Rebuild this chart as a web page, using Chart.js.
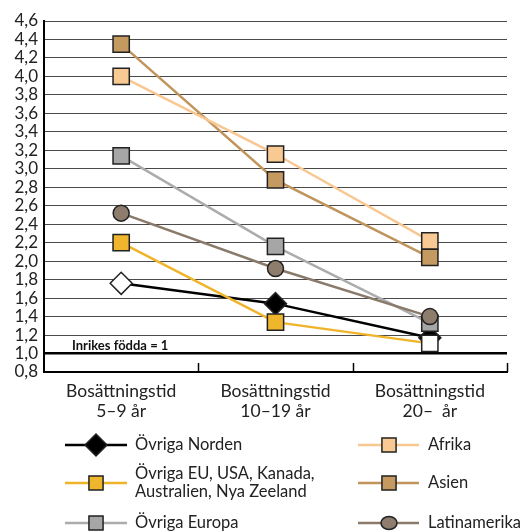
<!DOCTYPE html>
<html>
<head>
<meta charset="utf-8">
<script src="https://cdn.jsdelivr.net/npm/chart.js@4.4.1/dist/chart.umd.min.js"></script>
<style>
html, body { margin: 0; padding: 0; background: #fff; }
</style>
</head>
<body>
<canvas id="chart" width="520" height="531"></canvas>
<script>
// Data
const categories = [['Bosättningstid', '5–9 år'], ['Bosättningstid', '10–19 år'], ['Bosättningstid', '20–  år']];
const yTicksMin = 0.8;
const yTicksMax = 4.6;
const yTickStep = 0.2;

const ovrigaNorden = [1.76, 1.54, 1.17];
const ovrigaEU = [2.20, 1.34, 1.11];
const ovrigaEuropa = [3.14, 2.16, 1.33];
const afrika = [4.00, 3.16, 2.22];
const asien = [4.35, 2.88, 2.04];
const latinamerika = [2.52, 1.92, 1.40];

const referenceValue = 1;
const referenceLabel = 'Inrikes födda = 1';

const FONT = 'Lato, "Open Sans", sans-serif';

// dataset list; order = drawing order (lower on top)
const series = [
    { label: ['Övriga Norden'], data: ovrigaNorden, line: '#000000', fill: ['#ffffff', '#000000', '#000000'], style: 'rectRot', radius: 11, order: 5, col: 0, row: 0 },
    { label: ['Övriga EU, USA, Kanada,', 'Australien, Nya Zeeland'], data: ovrigaEU, line: '#efb42a', fill: ['#efb52c', '#efb52c', '#ffffff'], style: 'rect', radius: 11.5, order: 1, col: 0, row: 1 },
    { label: ['Övriga Europa'], data: ovrigaEuropa, line: '#acacac', fill: '#a6a6a6', style: 'rect', radius: 11.5, order: 4, col: 0, row: 2 },
    { label: ['Afrika'], data: afrika, line: '#f8c792', fill: '#f9c994', style: 'rect', radius: 11.5, order: 2, col: 1, row: 0 },
    { label: ['Asien'], data: asien, line: '#c0945a', fill: '#c49a60', style: 'rect', radius: 11.5, order: 3, col: 1, row: 1 },
    { label: ['Latinamerika'], data: latinamerika, line: '#8a7a6a', fill: '#8e7d6c', style: 'circle', radius: 8, order: 0, col: 1, row: 2 }
];

function drawMarker(ctx, style, x, y, r, fill, stroke) {
    ctx.save();
    ctx.beginPath();
    if (style === 'rect') {
        const s = r * Math.SQRT1_2;
        ctx.rect(x - s, y - s, 2 * s, 2 * s);
    } else if (style === 'rectRot') {
        ctx.moveTo(x - r, y);
        ctx.lineTo(x, y - r);
        ctx.lineTo(x + r, y);
        ctx.lineTo(x, y + r);
        ctx.closePath();
    } else {
        ctx.ellipse(x, y, r, r * 0.82, 0, 0, Math.PI * 2);
    }
    ctx.fillStyle = fill;
    ctx.fill();
    ctx.lineWidth = 1.5;
    ctx.strokeStyle = stroke;
    ctx.stroke();
    ctx.restore();
}

// small tick marks between categories, pointing up from the x axis
const categoryTicks = {
    id: 'categoryTicks',
    afterDraw(chart) {
        const { ctx, scales: { x }, chartArea } = chart;
        ctx.save();
        ctx.strokeStyle = '#000';
        ctx.lineWidth = 1.5;
        for (let i = 0; i < categories.length; i++) {
            const px = Math.round(x.getPixelForValue(i + 0.5)) + 0.5;
            ctx.beginPath();
            ctx.moveTo(px, chartArea.bottom);
            ctx.lineTo(px, chartArea.bottom - 9);
            ctx.stroke();
        }
        ctx.restore();
    }
};

// reference line text
const refText = {
    id: 'refText',
    beforeDatasetsDraw(chart) {
        const { ctx, scales: { y }, chartArea } = chart;
        ctx.save();
        ctx.font = 'bold 13px ' + FONT;
        ctx.fillStyle = '#111';
        ctx.textBaseline = 'middle';
        ctx.fillText(referenceLabel, chartArea.left + 28, y.getPixelForValue(referenceValue) - 8);
        ctx.restore();
    }
};

// two-column legend under the chart
const gridLegend = {
    id: 'gridLegend',
    afterDraw(chart) {
        const ctx = chart.ctx;
        const cols = [{ x0: 65, x1: 127, m: 96, t: 135 }, { x0: 358, x1: 419, m: 389, t: 428 }];
        const rows = [445, 483, 523];
        ctx.save();
        ctx.font = '16.5px ' + FONT;
        ctx.fillStyle = '#222';
        ctx.textBaseline = 'middle';
        series.forEach(s => {
            const c = cols[s.col];
            const y = rows[s.row];
            ctx.beginPath();
            ctx.strokeStyle = s.line;
            ctx.lineWidth = 2.5;
            ctx.moveTo(c.x0, y);
            ctx.lineTo(c.x1, y);
            ctx.stroke();
            const fill = Array.isArray(s.fill) ? s.fill[1] : s.fill;
            const r = s.style === 'rectRot' ? 11 : (s.style === 'circle' ? 8 : 10);
            drawMarker(ctx, s.style, c.m, y, r, fill, '#222');
            const lh = 18;
            const y0 = y - (s.label.length - 1) * lh / 2;
            s.label.forEach((t, i) => ctx.fillText(t, c.t, y0 + i * lh));
        });
        ctx.restore();
    }
};

const ctx = document.getElementById('chart').getContext('2d');
new Chart(ctx, {
    type: 'line',
    data: {
        labels: categories,
        datasets: series.map(s => ({
            label: s.label.join(' '),
            data: s.data,
            order: s.order,
            borderColor: s.line,
            borderWidth: 2.5,
            tension: 0,
            fill: false,
            pointStyle: s.style,
            pointRadius: s.radius,
            pointHoverRadius: s.radius,
            pointBackgroundColor: s.fill,
            pointBorderColor: '#222',
            pointBorderWidth: 1.5
        }))
    },
    options: {
        responsive: false,
        animation: false,
        layout: { padding: { top: 21, right: 12, left: 0, bottom: 0 } },
        scales: {
            x: {
                offset: true,
                grid: { display: false },
                border: { display: true, color: '#000', width: 2 },
                ticks: {
                    color: '#222',
                    font: { family: FONT, size: 17.5, lineHeight: 1.15 },
                    padding: 1,
                    maxRotation: 0,
                    autoSkip: false
                },
                afterFit: s => { s.height = 159; }
            },
            y: {
                min: yTicksMin,
                max: yTicksMax,
                grid: {
                    drawTicks: false,
                    color: c => Math.abs(c.tick.value - referenceValue) < 1e-6 || Math.abs(c.tick.value - yTicksMin) < 1e-6 ? '#000' : '#4a4a4a',
                    lineWidth: c => Math.abs(c.tick.value - referenceValue) < 1e-6 ? 2.5 : 1
                },
                border: { display: true, color: '#000', width: 2 },
                ticks: {
                    stepSize: yTickStep,
                    autoSkip: false,
                    color: '#222',
                    padding: 6,
                    font: { family: FONT, size: 17, lineHeight: 1 },
                    callback: v => v.toFixed(1).replace('.', ',')
                },
                afterFit: s => { s.width = 44; }
            }
        },
        plugins: {
            legend: { display: false },
            tooltip: { enabled: false }
        }
    },
    plugins: [refText, categoryTicks, gridLegend]
});
</script>
</body>
</html>
